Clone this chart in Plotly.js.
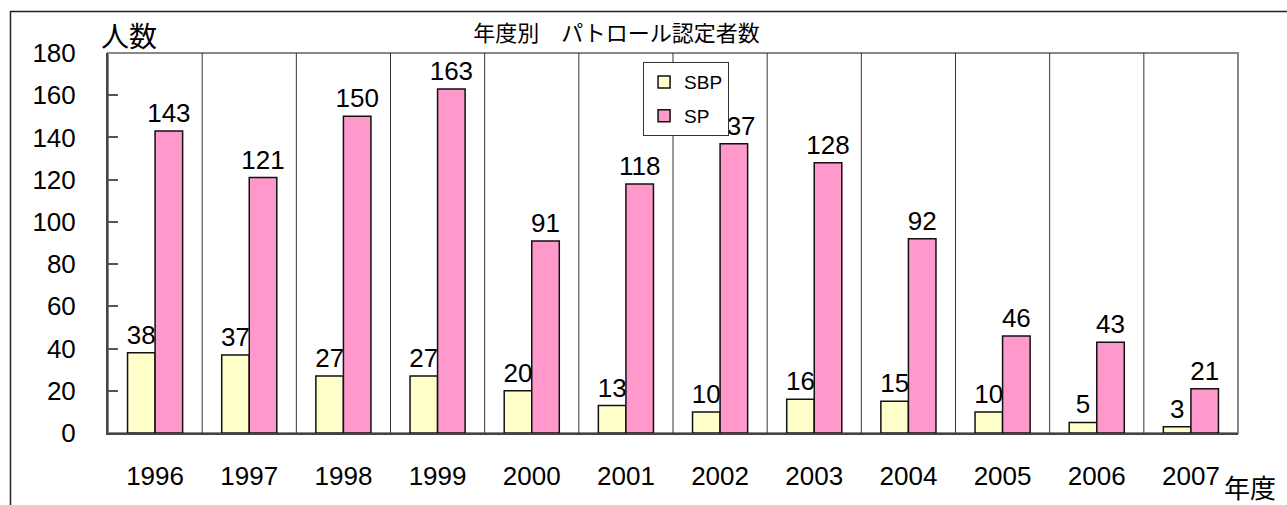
<!DOCTYPE html>
<html>
<head>
<meta charset="utf-8">
<script src="https://cdn.plot.ly/plotly-3.0.1.min.js"></script>
<style>
    html, body { margin: 0; padding: 0; background: #fff; }
    #chart { width: 1287px; height: 505px; }
</style>
</head>
<body>
<div id="chart"></div>
<script>
const years = ["1996", "1997", "1998", "1999", "2000", "2001", "2002", "2003", "2004", "2005", "2006", "2007"];
const sbpCounts = [38, 37, 27, 27, 20, 13, 10, 16, 15, 10, 5, 3];
const spCounts = [143, 121, 150, 163, 91, 118, 137, 128, 92, 46, 43, 21];

const FONT = "Noto Sans CJK JP, Noto Sans, sans-serif";
const NUM_FONT = "Liberation Sans, Arial, sans-serif";

function barTrace(name, values, color, group) {
    return {
        x: years,
        y: values,
        type: "bar",
        name: name,
        legendgroup: group,
        marker: {color: color, line: {color: "#111", width: 1.5}},
        text: values.map(String),
        textposition: "outside",
        constraintext: "none",
        cliponaxis: false,
        textfont: {size: 26, color: "#000", family: NUM_FONT}
    };
}

const traces = [
    barTrace("SBP", sbpCounts, "#FFFFCC", "a"),
    barTrace("SP", spCounts, "#FF99CC", "b")
];

// vertical separators between year groups
const separators = years.slice(1).map((y, i) => ({
    type: "line", xref: "x", yref: "paper",
    x0: i + 0.5, x1: i + 0.5, y0: 0, y1: 1,
    line: {color: "#333", width: 1}, layer: "below"
}));

const layout = {
    width: 1287,
    height: 505,
    margin: {t: 53, r: 49, b: 72, l: 108},
    paper_bgcolor: "#fff",
    plot_bgcolor: "#fff",
    font: {family: FONT, color: "#000"},
    title: {
        text: "年度別　パトロール認定者数",
        font: {size: 22, family: FONT},
        xref: "paper", x: 0.45, xanchor: "center",
        yref: "container", y: 0.935, yanchor: "middle"
    },
    barmode: "group",
    bargap: 0.415,
    bargroupgap: 0,
    showlegend: true,
    legend: {
        x: 0.4735, xanchor: "left",
        y: 0.976, yanchor: "top",
        bgcolor: "#fff",
        bordercolor: "#333",
        borderwidth: 1,
        font: {size: 19, family: NUM_FONT},
        traceorder: "grouped",
        tracegroupgap: 6
    },
    xaxis: {
        type: "category",
        showgrid: false,
        showline: true,
        linecolor: "#444",
        linewidth: 2,
        ticks: "",
        ticklabelstandoff: 19,
        tickfont: {size: 26, family: NUM_FONT}
    },
    yaxis: {
        range: [0, 180],
        dtick: 20,
        showgrid: false,
        zeroline: false,
        showline: true,
        linecolor: "#444",
        linewidth: 2,
        ticks: "inside",
        ticklen: 10,
        tickcolor: "#555",
        tickwidth: 1.5,
        ticklabelstandoff: 25,
        tickfont: {size: 26, family: NUM_FONT}
    },
    shapes: [
        {
            type: "rect", xref: "paper", yref: "paper",
            x0: 0, x1: 1, y0: 0, y1: 1,
            line: {color: "#888", width: 2}, layer: "below"
        },
        {
            type: "rect", xref: "paper", yref: "paper",
            x0: -0.0863, x1: 1.2, y0: -0.4, y1: 1.109,
            line: {color: "#222", width: 1.5}, layer: "below"
        }
    ].concat(separators),
    annotations: [
        {
            text: "人数", xref: "paper", yref: "paper",
            x: 0.0186, y: 1.047, xanchor: "center", yanchor: "middle",
            showarrow: false, font: {size: 28, family: FONT}
        },
        {
            text: "年度", xref: "paper", yref: "paper",
            x: 1.011, y: -0.14, xanchor: "center", yanchor: "middle",
            showarrow: false, font: {size: 26, family: FONT}
        }
    ]
};

Plotly.newPlot("chart", traces, layout, {displayModeBar: false});
</script>
</body>
</html>
